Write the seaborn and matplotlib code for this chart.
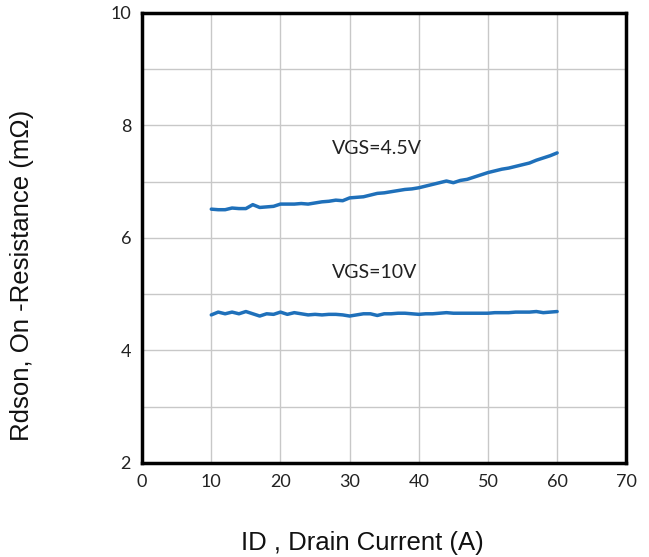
import matplotlib
matplotlib.use("Agg")
import matplotlib.pyplot as plt
import seaborn as sns
import pandas as pd

drain_current = list(range(10, 61))
rdson_vgs45 = [6.51, 6.50, 6.50, 6.53, 6.52, 6.52, 6.59, 6.54, 6.55, 6.56,
               6.60, 6.60, 6.60, 6.61, 6.60, 6.62, 6.64, 6.65, 6.67, 6.66,
               6.71, 6.72, 6.73, 6.76, 6.79, 6.80, 6.82, 6.84, 6.86, 6.87,
               6.89, 6.92, 6.95, 6.98, 7.01, 6.98, 7.02, 7.04, 7.08, 7.12,
               7.16, 7.19, 7.22, 7.24, 7.27, 7.30, 7.33, 7.38, 7.42, 7.46,
               7.51]
rdson_vgs10 = [4.63, 4.68, 4.65, 4.68, 4.65, 4.69, 4.65, 4.61, 4.65, 4.64,
               4.68, 4.64, 4.67, 4.65, 4.63, 4.64, 4.63, 4.64, 4.64, 4.63,
               4.61, 4.63, 4.65, 4.65, 4.62, 4.65, 4.65, 4.66, 4.66, 4.65,
               4.64, 4.65, 4.65, 4.66, 4.67, 4.66, 4.66, 4.66, 4.66, 4.66,
               4.66, 4.67, 4.67, 4.67, 4.68, 4.68, 4.68, 4.69, 4.67, 4.68,
               4.69]
series_labels = ["VGS=4.5V", "VGS=10V"]
x_ticks = [0, 10, 20, 30, 40, 50, 60, 70]
y_ticks = [2, 4, 6, 8, 10]

df = pd.DataFrame({
    "ID": drain_current * 2,
    "Rdson": rdson_vgs45 + rdson_vgs10,
    "VGS": [series_labels[0]] * len(drain_current) + [series_labels[1]] * len(drain_current),
})

sns.set_style("white")
fig = plt.figure(figsize=(6.49, 5.57), dpi=100)
ax = fig.add_axes([0.219, 0.169, 0.746, 0.808])

line_color = "#1F70BA"
sns.lineplot(data=df, x="ID", y="Rdson", hue="VGS",
             palette=[line_color, line_color], linewidth=2.5,
             legend=False, ax=ax, estimator=None)

ax.set_xlim(0, 70)
ax.set_ylim(2, 10)
ax.set_xticks(x_ticks)
ax.set_yticks(y_ticks)
ax.set_yticks([3, 5, 7, 9], minor=True)
ax.grid(True, which="both", color="#C8C8C8", linewidth=1.0)
ax.set_axisbelow(True)
for s in ax.spines.values():
    s.set_color("black")
    s.set_linewidth(2.5)

ax.tick_params(axis="both", which="both", length=0, colors="#222222")
ax.tick_params(axis="x", pad=8)
ax.tick_params(axis="y", pad=8)
for lab in ax.get_xticklabels() + ax.get_yticklabels():
    lab.set_fontfamily(["Lato", "DejaVu Sans"])
    lab.set_fontsize(13)

ax.text(33.9, 7.59, series_labels[0], ha="center", va="center",
        fontsize=14, family=["Lato", "DejaVu Sans"], color="#222222")
ax.text(33.6, 5.375, series_labels[1], ha="center", va="center",
        fontsize=14, family=["Lato", "DejaVu Sans"], color="#222222")

ax.set_xlabel("")
ax.set_ylabel("")
fig.text(362 / 649, 1 - 543 / 557, "ID , Drain Current (A)", ha="center", va="center",
         fontsize=18.5, family=["Liberation Sans", "DejaVu Sans"], color="#111111")
fig.text(22 / 649, 1 - 275 / 557, "Rdson, On -Resistance (m\u03a9)", ha="center", va="center",
         rotation=90, fontsize=18.5, family=["Liberation Sans", "DejaVu Sans"], color="#111111")

fig.savefig("out.png", dpi=100)
